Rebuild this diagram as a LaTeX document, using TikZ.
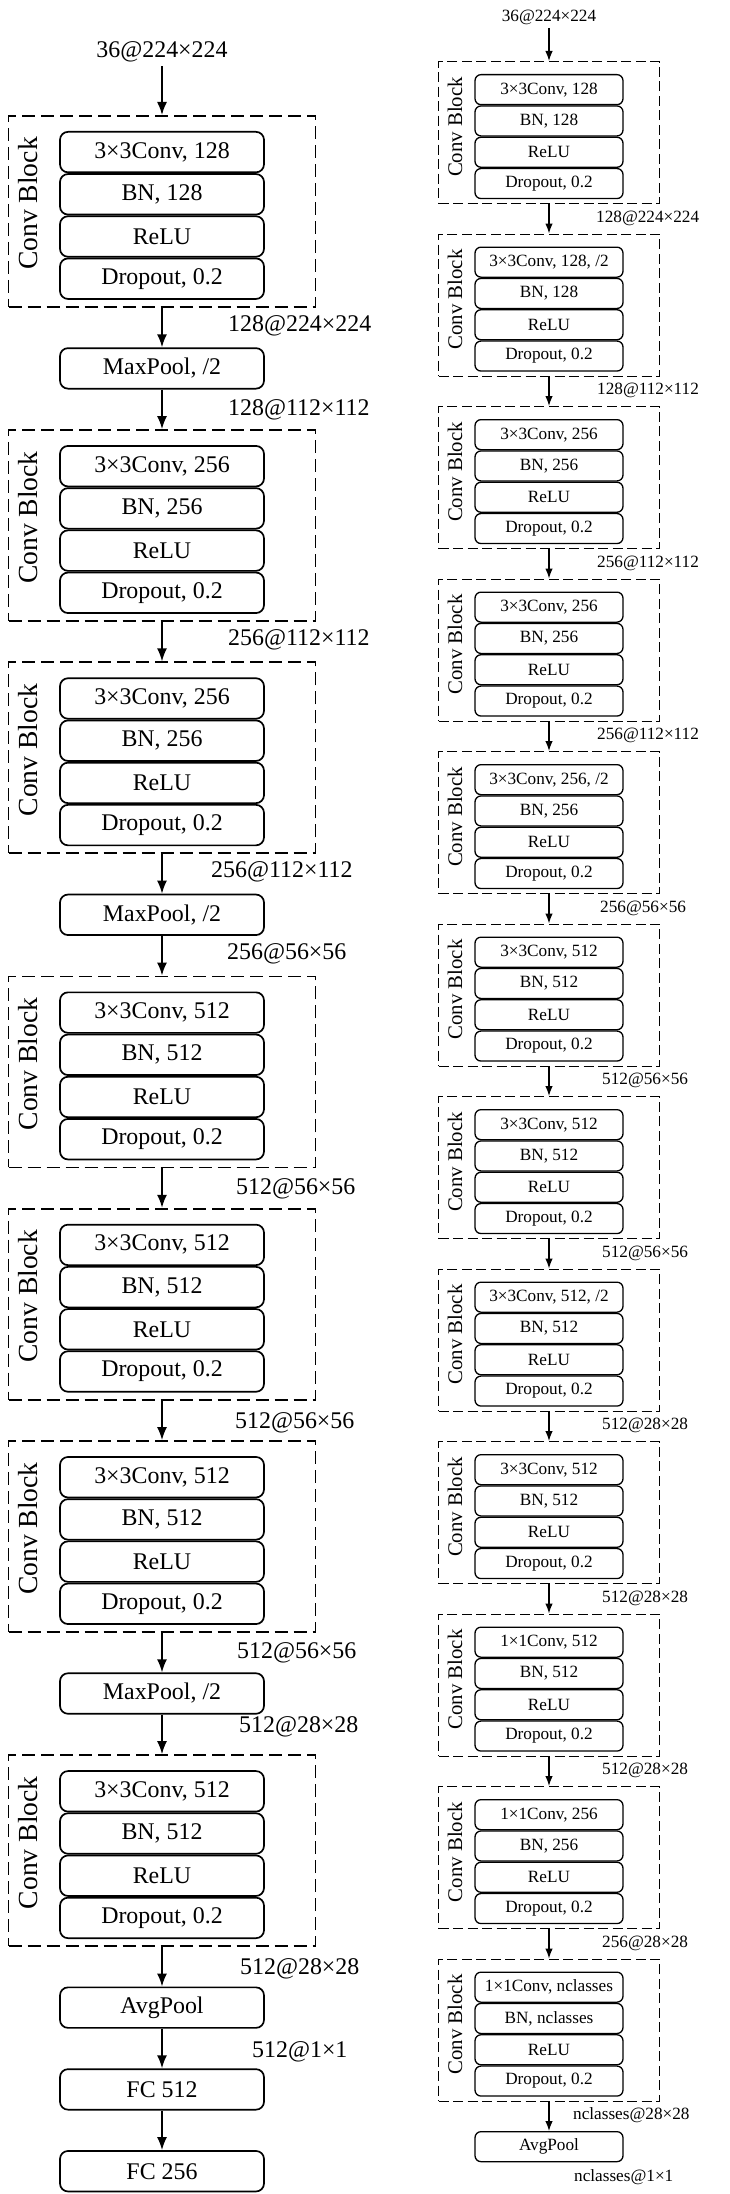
\documentclass[tikz,border=0pt]{standalone}
\usepackage{fontspec}
\setmainfont{Liberation Serif}
\usetikzlibrary{arrows.meta}
\newcommand\Lfs{\fontsize{23.9pt}{28pt}\selectfont}
\newcommand\Rfs{\fontsize{17.2pt}{20pt}\selectfont}
\newcommand\LCBfs{\fontsize{27.6pt}{32pt}\selectfont}
\newcommand\RCBfs{\fontsize{20.8pt}{24pt}\selectfont}
\tikzset{
  lbox/.style={draw, rounded corners=8pt, line width=1.7pt, minimum width=204pt, minimum height=40.5pt, inner sep=0pt, font=\Lfs, anchor=north},
  rbox/.style={draw, rounded corners=6pt, line width=1.3pt, minimum width=148pt, minimum height=30pt, inner sep=0pt, font=\Rfs, anchor=north},
  ldash/.style={draw, dash pattern=on 13pt off 6pt, line width=1.7pt, minimum width=307pt, minimum height=191pt, inner sep=0pt, anchor=north},
  rdash/.style={draw, dash pattern=on 10pt off 4.5pt, line width=1.3pt, minimum width=221pt, minimum height=142pt, inner sep=0pt, anchor=north},
  larr/.style={-{Latex[length=13pt,width=10pt]}, line width=1.7pt},
  rarr/.style={-{Latex[length=10pt,width=7.5pt]}, line width=1.3pt},
  llab/.style={font=\Lfs, inner sep=0pt, anchor=west},
  rlab/.style={font=\Rfs, inner sep=0pt, anchor=west},
  lcb/.style={font=\LCBfs, rotate=90, anchor=base, inner sep=0pt},
  rcb/.style={font=\RCBfs, rotate=90, anchor=base, inner sep=0pt},
}
\newcommand\LBlk[6]{%
  \node[ldash] (#1) at (162,#2) {};
  \node[lbox] (#1a) at (162,#2+16) {#3};
  \node[lbox] (#1b) at (#1a.south) {#4};
  \node[lbox] (#1c) at (#1b.south) {#5};
  \node[lbox] (#1d) at (#1c.south) {#6};
  \node[lcb] (#1t) at (37,#2+88.5) {Conv Block};
}
\newcommand\RBlk[6]{%
  \node[rdash] (#1) at (549,#2) {};
  \node[rbox] (#1a) at (549,#2+13) {#3};
  \node[rbox] (#1b) at (#1a.south) {#4};
  \node[rbox] (#1c) at (#1b.south) {#5};
  \node[rbox] (#1d) at (#1c.south) {#6};
  \node[rcb] (#1t) at (462,#2+66) {Conv Block};
}
\begin{document}
\begin{tikzpicture}[x=1pt,y=-1pt]
\path[fill=white, use as bounding box] (0,0) rectangle (730,2194);
% ---------------- left column ----------------
\node[font=\Lfs, inner sep=0pt, outer sep=4pt] (Lin) at (162,52) {36@224×224};
\LBlk{B1}{115}{3×3Conv, 128}{BN, 128}{ReLU}{Dropout, 0.2}
\node[lbox] (M1) at (162,347.3) {MaxPool, /2};
\LBlk{B2}{429.1}{3×3Conv, 256}{BN, 256}{ReLU}{Dropout, 0.2}
\LBlk{B3}{661.4}{3×3Conv, 256}{BN, 256}{ReLU}{Dropout, 0.2}
\node[lbox] (M2) at (162,893.7) {MaxPool, /2};
\LBlk{B4}{975.5}{3×3Conv, 512}{BN, 512}{ReLU}{Dropout, 0.2}
\LBlk{B5}{1207.8}{3×3Conv, 512}{BN, 512}{ReLU}{Dropout, 0.2}
\LBlk{B6}{1440.1}{3×3Conv, 512}{BN, 512}{ReLU}{Dropout, 0.2}
\node[lbox] (M3) at (162,1672.4) {MaxPool, /2};
\LBlk{B7}{1754.2}{3×3Conv, 512}{BN, 512}{ReLU}{Dropout, 0.2}
\node[lbox] (LA) at (162,1986.5) {AvgPool};
\node[lbox] (F1) at (162,2068.3) {FC 512};
\node[lbox] (F2) at (162,2150.1) {FC 256};
\draw[larr] (Lin.south) -- (B1.north);
\draw[larr] (B1.south) -- (M1.north);
\draw[larr] (M1.south) -- (B2.north);
\draw[larr] (B2.south) -- (B3.north);
\draw[larr] (B3.south) -- (M2.north);
\draw[larr] (M2.south) -- (B4.north);
\draw[larr] (B4.south) -- (B5.north);
\draw[larr] (B5.south) -- (B6.north);
\draw[larr] (B6.south) -- (M3.north);
\draw[larr] (M3.south) -- (B7.north);
\draw[larr] (B7.south) -- (LA.north);
\draw[larr] (LA.south) -- (F1.north);
\draw[larr] (F1.south) -- (F2.north);
\node[llab] (l1) at (228,326) {128@224×224};
\node[llab] (l2) at (228,410) {128@112×112};
\node[llab] (l3) at (228,640) {256@112×112};
\node[llab] (l4) at (211,872) {256@112×112};
\node[llab] (l5) at (227,954) {256@56×56};
\node[llab] (l6) at (236,1189) {512@56×56};
\node[llab] (l7) at (235,1423) {512@56×56};
\node[llab] (l8) at (237,1653) {512@56×56};
\node[llab] (l9) at (239,1727) {512@28×28};
\node[llab] (l10) at (240,1969) {512@28×28};
\node[llab] (l11) at (252,2052) {512@1×1};
% ---------------- right column ----------------
\node[font=\Rfs, inner sep=0pt, outer sep=3.5pt] (Rin) at (549,17) {36@224×224};
\RBlk{R1}{61}{3×3Conv, 128}{BN, 128}{ReLU}{Dropout, 0.2}
\RBlk{R2}{233.5}{3×3Conv, 128, /2}{BN, 128}{ReLU}{Dropout, 0.2}
\RBlk{R3}{406}{3×3Conv, 256}{BN, 256}{ReLU}{Dropout, 0.2}
\RBlk{R4}{578.5}{3×3Conv, 256}{BN, 256}{ReLU}{Dropout, 0.2}
\RBlk{R5}{751}{3×3Conv, 256, /2}{BN, 256}{ReLU}{Dropout, 0.2}
\RBlk{R6}{923.5}{3×3Conv, 512}{BN, 512}{ReLU}{Dropout, 0.2}
\RBlk{R7}{1096}{3×3Conv, 512}{BN, 512}{ReLU}{Dropout, 0.2}
\RBlk{R8}{1268.5}{3×3Conv, 512, /2}{BN, 512}{ReLU}{Dropout, 0.2}
\RBlk{R9}{1441}{3×3Conv, 512}{BN, 512}{ReLU}{Dropout, 0.2}
\RBlk{R10}{1613.5}{1×1Conv, 512}{BN, 512}{ReLU}{Dropout, 0.2}
\RBlk{R11}{1786}{1×1Conv, 256}{BN, 256}{ReLU}{Dropout, 0.2}
\RBlk{R12}{1958.5}{1×1Conv, nclasses}{BN, nclasses}{ReLU}{Dropout, 0.2}
\node[rbox] (RA) at (549,2131) {AvgPool};
\draw[rarr] (Rin.south) -- (R1.north);
\draw[rarr] (R1.south) -- (R2.north);
\draw[rarr] (R2.south) -- (R3.north);
\draw[rarr] (R3.south) -- (R4.north);
\draw[rarr] (R4.south) -- (R5.north);
\draw[rarr] (R5.south) -- (R6.north);
\draw[rarr] (R6.south) -- (R7.north);
\draw[rarr] (R7.south) -- (R8.north);
\draw[rarr] (R8.south) -- (R9.north);
\draw[rarr] (R9.south) -- (R10.north);
\draw[rarr] (R10.south) -- (R11.north);
\draw[rarr] (R11.south) -- (R12.north);
\draw[rarr] (R12.south) -- (RA.north);
\node[rlab] (r1) at (596,218) {128@224×224};
\node[rlab] (r2) at (597,390.5) {128@112×112};
\node[rlab] (r3) at (597,563) {256@112×112};
\node[rlab] (r4) at (597,735.5) {256@112×112};
\node[rlab] (r5) at (600,908) {256@56×56};
\node[rlab] (r6) at (602,1080.5) {512@56×56};
\node[rlab] (r7) at (602,1253) {512@56×56};
\node[rlab] (r8) at (602,1425.5) {512@28×28};
\node[rlab] (r9) at (602,1598) {512@28×28};
\node[rlab] (r10) at (602,1770.5) {512@28×28};
\node[rlab] (r11) at (602,1943) {256@28×28};
\node[rlab] (r12) at (573,2115.5) {nclasses@28×28};
\node[rlab] (r13) at (574,2177) {nclasses@1×1};
\end{tikzpicture}
\end{document}
